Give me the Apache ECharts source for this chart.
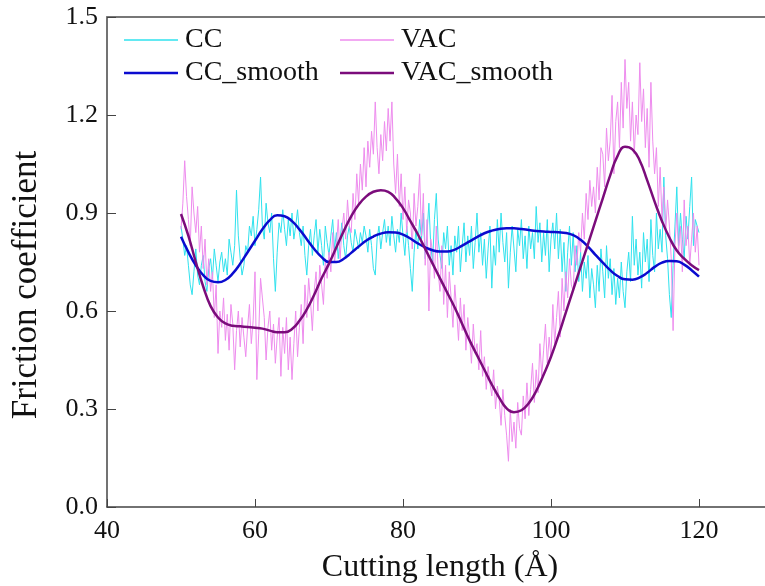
<!DOCTYPE html>
<html><head><meta charset="utf-8">
<script src="https://cdn.jsdelivr.net/npm/echarts@6/dist/echarts.min.js"></script>
<style>html,body{margin:0;padding:0;background:#fff}#c{width:765px;height:586px}</style>
</head><body><div id="c"></div><script>
// sampling grids (x positions of the samples)
const rawStart = 50, rawStep = 0.25;
const smoothStart = 50, smoothStep = 1;

const ccRaw = [
 .86,.82,.77,.80, .74,.68,.65,.72, .79,.71,.68,.74, .77,.69,.66,.73, .76,.70,.79,.74,
 .69,.75,.78,.72, .76,.71,.82,.78, .74,.80,.97,.83, .76,.71,.74,.80, .78,.86,.83,.89,
 .80,.85,.91,1.01, .86,.82,.93,.87, .84,.90,.76,.66, .78,.87,.84,.91, .85,.80,.88,.83,
 .90,.82,.86,.91, .84,.80,.86,.77, .71,.80,.85,.77, .83,.88,.78,.85, .80,.74,.86,.81,
 .77,.83,.88,.79, .84,.76,.82,.87, .80,.76,.83,.86, .81,.78,.85,.82, .79,.84,.81,.86,
 .83,.78,.85,.80, .73,.71,.82,.86, .79,.84,.88,.81, .86,.80,.89,.83, .78,.85,.81,.90,
 .83,.77,.86,.80, .73,.66,.78,.85, .79,.88,.82,.90, .76,.84,.93,.80, .75,.88,.96,.82,
 .77,.73,.84,.79, .86,.74,.80,.71, .83,.78,.86,.72, .80,.87,.75,.83, .77,.86,.73,.81,
 .90,.78,.84,.74, .82,.70,.79,.86, .67,.80,.74,.88, .78,.90,.81,.75, .84,.67,.78,.86,
 .79,.72,.85,.80, .88,.76,.83,.73, .86,.79,.84,.76, .92,.81,.87,.75, .84,.77,.88,.72,
 .82,.87,.79,.90, .76,.85,.72,.81, .66,.78,.86,.74, .84,.72,.80,.69, .78,.66,.75,.70,
 .77,.64,.73,.68, .61,.74,.66,.79, .72,.64,.80,.70, .76,.65,.73,.62, .70,.64,.75,.66,
 .61,.72,.78,.69, .89,.74,.82,.71, .78,.67,.84,.75, .82,.69,.88,.77, .72,.90,.79,.85,
 .78,1.01,.83,.76, .65,.58,.74,.86, .98,.80,.90,.82, .76,.89,.82,.92, 1.01,.80,.88,.86,
 .84
];
const vacRaw = [
 .85,.93,1.06,.95, .88,.80,.98,.90, .84,.92,.78,.86, .73,.82,.68,.76, .66,.72,.58,.68,
 .47,.60,.55,.64, .51,.59,.48,.62, .56,.42,.54,.60, .49,.58,.52,.46, .55,.62,.50,.57,
 .72,.39,.53,.70, .64,.58,.45,.55, .60,.48,.56,.44, .52,.58,.40,.55, .47,.58,.42,.52,
 .39,.50,.60,.46, .55,.62,.50,.68, .58,.70,.63,.54, .66,.72,.60,.74, .68,.62,.76,.70,
 .78,.72,.84,.75, .80,.88,.76,.85, .90,.82,.94,.86, .84,.96,.88,1.02, .93,1.05,.97,1.10,
 .98,1.12,1.04,1.15, 1.08,1.24,1.10,1.02, 1.14,1.06,1.18,1.09, 1.22,1.12,1.24,1.05, .96,1.08,.92,1.02,
 .88,.98,.84,.94, .90,.79,.96,.86, .92,1.02,.83,.96, .74,.88,.60,.82, .78,.70,.86,.72,
 .66,.80,.62,.74, .58,.72,.64,.55, .68,.60,.51,.64, .54,.62,.48,.58, .52,.44,.56,.47,
 .50,.42,.54,.40, .46,.36,.43,.38, .34,.42,.30,.37, .33,.25,.36,.28, .22,.14,.30,.20,
 .26,.18,.32,.24, .22,.34,.27,.38, .28,.36,.44,.32, .42,.35,.50,.40, .48,.56,.44,.52,
 .46,.62,.50,.58, .66,.52,.70,.60, .72,.64,.76,.68, .66,.80,.74,.84, .78,.90,.82,.96,
 .88,1.00,.92,.98, .90,1.04,.94,1.10, 1.08,.98,1.16,1.06, 1.12,1.26,1.02,1.18, 1.24,1.10,1.30,1.16,
 1.37,1.22,1.30,1.12, 1.24,1.08,1.20,1.14, 1.36,1.18,1.28,1.10, 1.22,1.04,1.30,1.12, 1.02,1.10,.92,1.04,
 .88,.98,.84,.94, .86,.76,.54,.80, .90,.78,.86,.72, .94,.80,.86,.74, .82,.90,.78,.86,
 .74
];
const ccSmooth = [
 .827,.78,.74,.71,.692,.688,.695,.715,.745,.78,
 .815,.85,.878,.893,.89,.875,.85,.82,.79,.765,
 .75,.75,.76,.778,.797,.815,.828,.837,.841,.84,
 .834,.822,.807,.795,.786,.782,.782,.788,.80,.813,
 .826,.838,.846,.851,.853,.853,.851,.848,.845,.843,
 .842,.841,.839,.832,.818,.797,.772,.748,.725,.707,
 .697,.696,.703,.717,.735,.748,.753,.752,.742,.725,
 .705
];
const vacSmooth = [
 .897,.83,.75,.675,.615,.58,.562,.555,.553,.551,
 .549,.546,.54,.535,.535,.545,.57,.605,.65,.70,
 .745,.795,.845,.89,.925,.95,.965,.97,.965,.945,
 .915,.875,.835,.79,.745,.70,.655,.61,.56,.51,
 .465,.42,.375,.335,.302,.29,.296,.318,.355,.405,
 .46,.525,.595,.665,.735,.805,.875,.945,1.015,1.075,
 1.103,1.095,1.06,1.0,.935,.875,.825,.785,.76,.74,
 .725
];
const seriesNames = ['CC','VAC','CC_smooth','VAC_smooth'];
const xTitle = 'Cutting length (Å)';
const yTitle = 'Friction coefficient';

function pairs(arr, start, step){ return arr.map((v,i)=>[start+i*step, v]); }

const FONT = 'Liberation Serif, Times New Roman, serif';
const chart = echarts.init(document.getElementById('c'), null, {renderer:'canvas'});
const axisCol = '#444';
function leg(name, left, top, h){
  return {data:[{name:name, icon:'rect'}], orient:'vertical', left:left, top:top, padding:0,
    itemWidth:54, itemHeight:h, itemGap:0,
    textStyle:{fontFamily:FONT, fontSize:28, lineHeight:28, color:'#111', padding:[0,0,0,2]}};
}
chart.setOption({
  animation:false,
  backgroundColor:'#fff',
  grid:{left:107, right:-8, top:17, bottom:79, containLabel:false, outerBoundsMode:'none'},
  legend:[
    leg('CC',124,26,1.5), leg('CC_smooth',124,59,2.5),
    leg('VAC',340,26,1.5), leg('VAC_smooth',340,59,2.5)
  ],
  xAxis:[{
    type:'value', min:40, max:130, interval:20, position:'bottom',
    name:xTitle, nameLocation:'middle', nameGap:45,
    nameTextStyle:{fontFamily:FONT, fontSize:32, color:'#111'},
    axisLine:{show:true, lineStyle:{color:axisCol, width:1.5}},
    axisTick:{show:true, inside:true, length:8, lineStyle:{color:axisCol, width:1}},
    axisLabel:{fontFamily:FONT, fontSize:26, color:'#111', margin:11, showMaxLabel:false},
    splitLine:{show:false}
  },{
    type:'value', min:40, max:130, position:'top',
    axisLine:{show:true, lineStyle:{color:'#777', width:2}},
    axisTick:{show:false}, axisLabel:{show:false}, splitLine:{show:false}
  }],
  yAxis:{
    type:'value', min:0, max:1.5, interval:0.3,
    axisLine:{show:true, lineStyle:{color:axisCol, width:1.5}},
    axisTick:{show:true, inside:true, length:9, lineStyle:{color:axisCol, width:1}},
    axisLabel:{fontFamily:FONT, fontSize:26, color:'#111', margin:9, formatter:v=>v.toFixed(1)},
    splitLine:{show:false}
  },
  graphic:[{
    type:'text', x:27, y:285, rotation:Math.PI/2,
    style:{text:yTitle, font:'35px ' + FONT, fill:'#111', align:'center', verticalAlign:'middle'}
  }],
  series:[
    {name:seriesNames[0], type:'line', symbol:'none', data:pairs(ccRaw, rawStart, rawStep),
     lineStyle:{width:1, color:'#2FE2EE'}, itemStyle:{color:'#2FE2EE'}, z:2},
    {name:seriesNames[1], type:'line', symbol:'none', data:pairs(vacRaw, rawStart, rawStep),
     lineStyle:{width:1, color:'#EE8CEE'}, itemStyle:{color:'#EE8CEE'}, z:2},
    {name:seriesNames[2], type:'line', symbol:'none', smooth:true, data:pairs(ccSmooth, smoothStart, smoothStep),
     lineStyle:{width:2.5, color:'#0B0BCF'}, itemStyle:{color:'#0B0BCF'}, z:3},
    {name:seriesNames[3], type:'line', symbol:'none', smooth:true, data:pairs(vacSmooth, smoothStart, smoothStep),
     lineStyle:{width:2.5, color:'#7B0C7B'}, itemStyle:{color:'#7B0C7B'}, z:3}
  ]
});
</script></body></html>
